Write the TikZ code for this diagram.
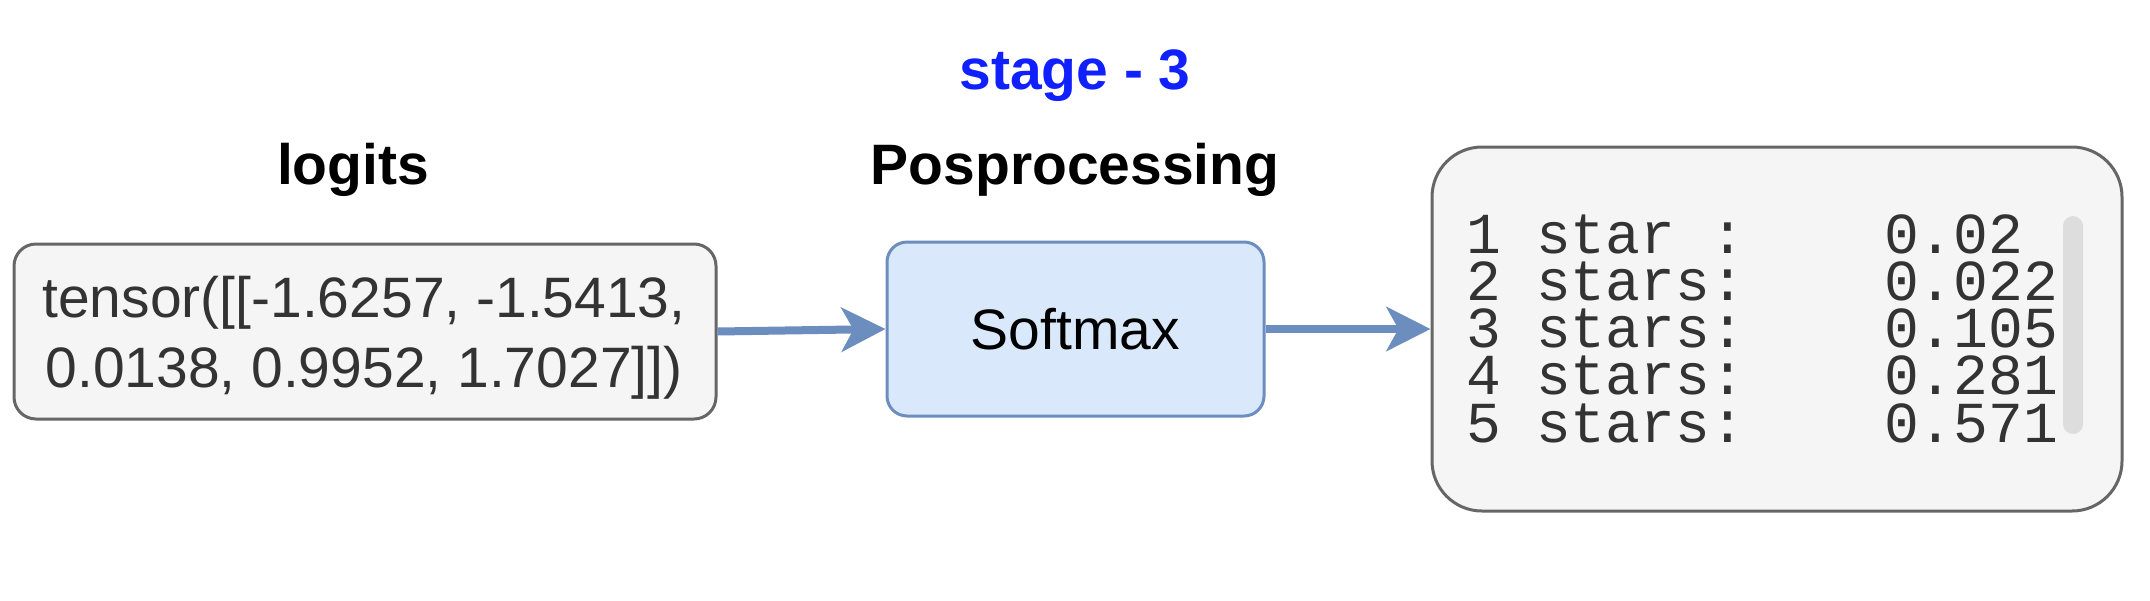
\documentclass[tikz,border=0pt]{standalone}
\usepackage{fontspec}
\setmainfont{Liberation Sans}
\newfontfamily\monofont{Liberation Mono}
\usetikzlibrary{arrows.meta}
\definecolor{grayfill}{HTML}{F5F5F5}
\definecolor{grayline}{HTML}{666666}
\definecolor{txtgray}{HTML}{333333}
\definecolor{bluefill}{HTML}{DAE8FC}
\definecolor{blueline}{HTML}{6C8EBF}
\definecolor{titleblue}{RGB}{16,32,255}
\definecolor{scrollgray}{HTML}{DDDDDD}
\newcommand\ms{\hspace{0.6em}}
\tikzset{
  head/.style={font=\bfseries\fontsize{28.5pt}{34pt}\selectfont, inner sep=0pt, anchor=base},
  graybox/.style={draw=grayline, fill=grayfill, line width=1.5pt, inner sep=0pt},
  bluebox/.style={draw=blueline, fill=bluefill, line width=1.5pt, inner sep=0pt,
    font=\fontsize{28.5pt}{34pt}\selectfont},
  tline/.style={font=\fontsize{28.5pt}{34pt}\selectfont, text=txtgray, inner sep=0pt, anchor=base},
  mline/.style={font=\monofont\fontsize{29pt}{34pt}\selectfont, text=txtgray, inner sep=0pt, anchor=base west},
  arr/.style={draw=blueline, line width=4pt,
    -{Stealth[length=22pt, width=22pt, inset=6pt, fill=blueline]}},
}
\begin{document}
\begin{tikzpicture}[x=0.5pt, y=-0.5pt]
\useasboundingbox (0,0) rectangle (2150,600);
% titles
\node[head, text=titleblue] (title) at (1075,89) {stage - 3};
\node[head] (hlogits) at (353,184) {logits};
\node[head] (hpost) at (1075,184) {Posprocessing};
% left box
\node[graybox, rounded corners=11pt, minimum width=351pt, minimum height=87.5pt] (lbox) at (365,331.5) {};
\node[tline] (t1) at (364,317) {tensor([[-1.6257, -1.5413,};
\node[tline] (t2) at (364,387) {0.0138, 0.9952, 1.7027]])};
% softmax box
\node[bluebox, rounded corners=10pt, minimum width=188.5pt, minimum height=87pt] (sm) at (1075.5,329) {Softmax};
% right box
\node[graybox, rounded corners=25pt, minimum width=345pt, minimum height=182pt] (rbox) at (1777,329) {};
\node[mline] (m1) at (1466,253) {1\ms star\ms :\ms\ms\ms\ms 0.02};
\node[mline] (m2) at (1466,300) {2\ms stars:\ms\ms\ms\ms 0.022};
\node[mline] (m3) at (1466,347) {3\ms stars:\ms\ms\ms\ms 0.105};
\node[mline] (m4) at (1466,394) {4\ms stars:\ms\ms\ms\ms 0.281};
\node[mline] (m5) at (1466,442) {5\ms stars:\ms\ms\ms\ms 0.571};
% scrollbar
\node[fill=scrollgray, rounded corners=5pt, minimum width=10pt, minimum height=109pt, inner sep=0pt] (scroll) at (2073,325) {};
% arrows
\draw[arr] (lbox.east) -- (sm.west);
\draw[arr] (sm.east) -- (rbox.west);
\end{tikzpicture}
\end{document}
